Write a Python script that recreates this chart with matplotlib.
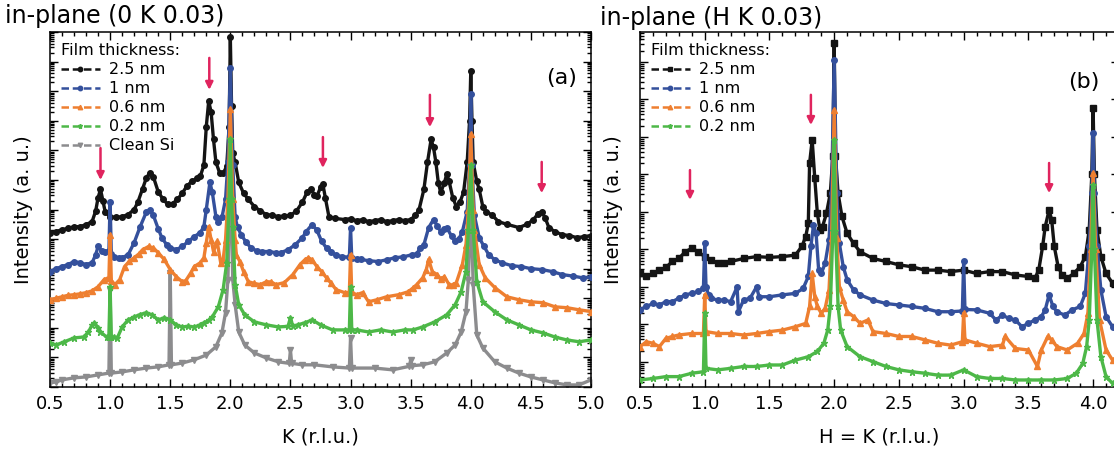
import numpy as np
import matplotlib
matplotlib.use("Agg")
import matplotlib.pyplot as plt
from matplotlib.lines import Line2D
from matplotlib.ticker import LogLocator, NullFormatter, MultipleLocator

plt.rcParams['font.family'] = ['DejaVu Sans']

# ---------------- Panel (a): in-plane (0 K 0.03) ----------------
# log10 of intensity (a.u.)
a_k_25 = [0.50,0.55,0.60,0.65,0.70,0.75,0.80,0.85,0.88,0.90,0.92,0.94,0.96,1.00,1.05,1.10,1.15,1.20,1.23,1.27,
          1.30,1.33,1.36,1.40,1.44,1.48,1.52,1.56,1.60,1.64,1.68,1.72,1.75,1.78,1.80,1.82,1.84,1.86,1.88,1.91,
          1.94,1.97,1.99,2.00,2.01,2.02,2.04,2.07,2.11,2.15,2.20,2.25,2.30,2.35,2.40,2.45,2.50,2.55,2.60,2.64,
          2.67,2.70,2.72,2.75,2.77,2.79,2.82,2.87,2.95,3.00,3.05,3.10,3.15,3.20,3.25,3.30,3.35,3.40,3.45,3.50,
          3.54,3.57,3.61,3.64,3.67,3.69,3.71,3.73,3.75,3.78,3.80,3.82,3.85,3.88,3.91,3.94,3.97,3.99,4.00,4.01,
          4.02,4.05,4.07,4.10,4.13,4.18,4.23,4.30,4.40,4.47,4.52,4.56,4.59,4.62,4.65,4.70,4.76,4.82,4.88,4.94,5.00]
a_i_25 = [5.22,5.25,5.32,5.36,5.42,5.42,5.49,5.59,5.95,6.40,6.68,6.30,5.90,5.76,5.73,5.76,5.83,6.00,6.24,6.70,
          7.05,7.25,7.10,6.60,6.35,6.17,6.20,6.34,6.55,6.80,6.95,7.05,7.12,7.50,8.80,9.66,9.30,8.37,7.60,7.25,
          7.22,7.46,8.80,11.83,9.50,7.90,7.59,6.92,6.55,6.34,6.10,5.95,5.83,5.80,5.76,5.78,5.80,5.95,6.25,6.60,
          6.68,6.50,6.44,6.75,6.85,6.40,5.76,5.70,5.66,5.69,5.62,5.66,5.59,5.62,5.66,5.59,5.62,5.66,5.62,5.66,
          5.80,6.00,6.68,7.60,8.37,8.10,7.59,6.90,6.58,6.90,7.19,6.95,6.40,6.10,6.25,6.58,7.59,9.00,10.68,9.00,
          7.59,6.95,6.68,6.10,5.93,5.80,5.59,5.50,5.39,5.50,5.66,5.85,5.93,5.70,5.39,5.25,5.15,5.12,5.05,5.08,5.12]

a_k_10 = [0.50,0.55,0.60,0.65,0.70,0.75,0.80,0.85,0.88,0.90,0.93,0.96,0.99,1.00,1.01,1.03,1.07,1.10,1.15,1.20,
          1.25,1.30,1.33,1.36,1.40,1.43,1.47,1.50,1.55,1.60,1.65,1.70,1.75,1.78,1.80,1.83,1.85,1.88,1.90,1.93,
          1.96,1.98,2.00,2.02,2.04,2.06,2.09,2.13,2.17,2.22,2.26,2.32,2.38,2.42,2.48,2.54,2.60,2.63,2.68,2.72,
          2.76,2.80,2.84,2.88,2.93,2.99,3.00,3.01,3.05,3.09,3.15,3.23,3.30,3.37,3.44,3.51,3.55,3.58,3.61,3.65,
          3.69,3.72,3.75,3.78,3.80,3.84,3.87,3.90,3.93,3.97,3.99,4.00,4.01,4.03,4.07,4.11,4.15,4.20,4.26,4.34,
          4.42,4.50,4.59,4.68,4.76,4.85,4.93,5.00]
a_i_10 = [3.90,4.00,4.07,4.14,4.24,4.20,4.14,4.20,4.47,4.75,4.60,4.58,4.60,6.27,4.50,4.41,4.37,4.37,4.47,4.88,
          5.42,5.90,5.97,5.80,5.35,5.05,4.81,4.71,4.64,4.75,4.92,5.08,5.22,5.42,6.00,6.92,6.58,5.76,5.59,5.73,
          6.34,7.59,10.80,7.50,5.73,5.40,5.15,4.90,4.71,4.60,4.58,4.58,4.54,4.54,4.64,4.81,5.05,5.25,5.49,5.30,
          4.92,4.70,4.58,4.45,4.41,4.38,5.39,4.35,4.31,4.31,4.27,4.24,4.30,4.37,4.40,4.47,4.50,4.70,4.81,5.39,
          5.66,5.45,5.25,5.35,5.39,5.10,4.92,5.00,5.25,5.93,7.50,9.90,7.50,5.80,5.05,4.75,4.47,4.30,4.20,4.10,
          4.07,4.00,3.97,3.90,3.80,3.75,3.69,3.72]

a_k_06 = [0.50,0.55,0.60,0.65,0.70,0.75,0.80,0.85,0.90,0.95,0.99,1.00,1.01,1.04,1.08,1.12,1.16,1.20,1.24,1.27,
          1.32,1.36,1.40,1.45,1.50,1.55,1.60,1.63,1.67,1.70,1.75,1.78,1.80,1.82,1.84,1.86,1.89,1.92,1.94,1.96,
          1.98,2.00,2.02,2.04,2.05,2.08,2.11,2.15,2.20,2.25,2.30,2.34,2.38,2.45,2.52,2.58,2.62,2.65,2.68,2.72,
          2.76,2.80,2.84,2.88,2.95,2.99,3.00,3.01,3.05,3.10,3.15,3.22,3.30,3.40,3.48,3.52,3.55,3.60,3.63,3.65,
          3.68,3.72,3.75,3.78,3.82,3.85,3.88,3.93,3.96,3.98,4.00,4.02,4.03,4.07,4.12,4.20,4.30,4.40,4.50,4.60,
          4.70,4.80,4.90,5.00]
a_i_06 = [2.95,3.00,3.05,3.10,3.12,3.15,3.19,3.25,3.39,3.63,3.70,5.15,3.60,3.46,3.63,4.07,4.25,4.37,4.50,4.64,
          4.75,4.70,4.54,4.31,3.97,3.73,3.56,3.60,3.85,4.07,4.20,4.37,4.88,5.42,4.98,4.58,4.92,4.20,4.30,4.98,
          6.34,9.39,6.34,4.98,4.47,4.24,3.90,3.56,3.50,3.46,3.56,3.55,3.46,3.53,3.80,4.14,4.30,4.37,4.30,4.07,
          3.90,3.69,3.50,3.29,3.19,3.20,4.47,3.20,3.12,3.19,2.88,2.95,3.05,3.12,3.22,3.35,3.46,3.69,3.97,4.31,
          3.90,3.80,3.65,3.73,3.46,3.45,3.53,4.14,4.81,6.00,8.54,6.00,5.32,4.14,3.69,3.36,3.05,2.95,2.88,2.85,
          2.71,2.68,2.61,2.55]

a_k_02 = [0.50,0.55,0.62,0.70,0.78,0.82,0.85,0.87,0.90,0.92,0.97,0.99,1.00,1.01,1.03,1.06,1.10,1.15,1.20,1.25,
          1.30,1.35,1.40,1.45,1.50,1.55,1.60,1.65,1.70,1.75,1.78,1.82,1.85,1.90,1.94,1.97,1.99,2.00,2.01,2.02,
          2.04,2.07,2.12,2.20,2.30,2.40,2.48,2.50,2.52,2.56,2.62,2.68,2.75,2.85,2.95,2.99,3.00,3.01,3.05,3.15,
          3.25,3.35,3.45,3.52,3.60,3.70,3.80,3.87,3.92,3.96,3.98,4.00,4.02,4.05,4.10,4.20,4.30,4.40,4.50,4.60,
          4.70,4.80,4.90,5.00]
a_i_02 = [1.49,1.42,1.53,1.66,1.69,1.86,2.10,2.17,2.00,1.86,1.69,1.69,3.39,1.69,1.69,1.66,2.03,2.27,2.37,2.45,
          2.51,2.44,2.27,2.34,2.27,2.10,2.03,2.05,2.03,2.10,2.17,2.25,2.37,2.71,3.29,4.20,6.34,8.37,6.34,5.40,
          3.46,2.78,2.44,2.20,2.10,2.03,2.05,2.34,2.05,2.10,2.17,2.27,2.10,1.93,1.93,1.93,3.39,1.93,1.93,1.86,
          1.93,1.86,1.93,1.93,2.03,2.20,2.44,2.78,3.22,3.90,5.32,7.50,5.32,3.56,2.88,2.54,2.27,2.10,1.93,1.83,
          1.69,1.59,1.53,1.59]

a_k_si = [0.50,0.55,0.60,0.70,0.80,0.90,0.99,1.00,1.01,1.10,1.20,1.30,1.40,1.49,1.50,1.51,1.60,1.70,1.80,1.88,
          1.93,1.96,1.98,2.00,2.02,2.04,2.07,2.12,2.20,2.30,2.40,2.49,2.50,2.51,2.60,2.70,2.85,2.99,3.00,3.01,
          3.20,3.35,3.49,3.50,3.51,3.60,3.70,3.80,3.87,3.92,3.96,3.98,4.00,4.02,4.05,4.10,4.20,4.30,4.40,4.50,
          4.60,4.70,4.80,4.90,5.00]
a_i_si = [0.14,0.17,0.24,0.31,0.34,0.41,0.47,3.29,0.47,0.51,0.58,0.64,0.68,0.75,3.86,0.75,0.81,0.92,1.08,1.36,
          1.83,2.51,3.63,7.69,3.63,2.78,1.86,1.42,1.15,0.98,0.85,0.80,1.25,0.80,0.75,0.75,0.68,0.64,1.66,0.64,
          0.64,0.58,0.70,0.92,0.72,0.75,0.85,1.15,1.42,1.86,2.54,3.63,6.34,3.46,1.76,1.32,0.85,0.64,0.47,0.34,
          0.24,0.14,0.07,0.07,0.24]

# ---------------- Panel (b): in-plane (H K 0.03) ----------------
b_k_25 = [0.50,0.55,0.60,0.65,0.70,0.75,0.80,0.85,0.90,0.95,1.00,1.05,1.10,1.15,1.20,1.30,1.40,1.50,1.60,1.70,
          1.75,1.78,1.80,1.81,1.83,1.85,1.87,1.89,1.91,1.94,1.97,1.99,2.00,2.01,2.03,2.06,2.10,2.15,2.20,2.30,
          2.40,2.50,2.60,2.70,2.80,2.90,3.00,3.10,3.20,3.30,3.40,3.50,3.55,3.58,3.61,3.63,3.66,3.68,3.70,3.73,
          3.76,3.80,3.85,3.90,3.94,3.97,3.99,4.00,4.01,4.03,4.06,4.10,4.15]
b_i_25 = [3.36,3.28,3.36,3.45,3.52,3.68,3.76,3.94,4.03,3.94,3.81,3.72,3.63,3.63,3.68,3.76,3.81,3.79,3.81,3.85,
          4.08,4.34,4.70,6.30,6.92,5.90,4.96,4.52,4.61,4.96,5.50,6.50,9.51,6.50,5.50,4.88,4.43,4.16,3.94,3.76,
          3.68,3.59,3.54,3.45,3.45,3.41,3.45,3.36,3.41,3.41,3.32,3.28,3.23,3.45,4.08,4.61,5.05,4.79,4.08,3.54,
          3.32,3.23,3.36,3.54,3.81,4.52,6.00,7.77,6.00,4.52,3.81,3.36,3.10]

b_k_10 = [0.50,0.55,0.60,0.65,0.70,0.75,0.80,0.85,0.90,0.95,0.99,1.00,1.01,1.03,1.05,1.10,1.15,1.20,1.25,1.26,
          1.30,1.35,1.40,1.42,1.50,1.60,1.70,1.76,1.80,1.82,1.84,1.86,1.88,1.90,1.93,1.96,1.98,2.00,2.02,2.04,
          2.07,2.10,2.15,2.20,2.30,2.40,2.50,2.60,2.70,2.80,2.90,2.99,3.00,3.01,3.10,3.20,3.25,3.30,3.35,3.40,3.45,
          3.50,3.55,3.60,3.63,3.66,3.69,3.72,3.78,3.84,3.90,3.94,3.97,3.99,4.00,4.01,4.03,4.06,4.10,4.15]
b_i_10 = [2.39,2.48,2.56,2.52,2.61,2.61,2.70,2.79,2.83,2.88,2.96,4.16,3.00,2.79,2.70,2.65,2.65,2.61,3.00,2.34,
          2.65,2.70,3.00,2.74,2.74,2.79,2.83,2.96,3.28,4.08,4.65,4.43,3.45,3.36,3.63,4.25,5.50,9.05,5.50,4.16,
          3.54,3.19,2.92,2.79,2.65,2.56,2.52,2.48,2.43,2.34,2.34,2.36,3.68,2.40,2.39,2.30,2.12,2.25,2.16,2.12,1.94,
          2.03,2.12,2.21,2.39,2.79,2.48,2.34,2.25,2.39,2.48,2.83,4.08,5.50,7.10,5.50,4.08,2.92,2.21,1.94]

b_k_06 = [0.50,0.55,0.60,0.65,0.70,0.75,0.80,0.90,0.99,1.00,1.01,1.10,1.20,1.30,1.40,1.50,1.60,1.70,1.78,1.81,
          1.83,1.85,1.87,1.90,1.93,1.96,1.98,2.00,2.02,2.04,2.07,2.10,2.15,2.20,2.26,2.30,2.40,2.50,2.60,2.70,
          2.80,2.90,2.99,3.00,3.01,3.10,3.20,3.30,3.32,3.40,3.50,3.57,3.60,3.65,3.68,3.72,3.80,3.88,3.93,3.96,
          3.98,4.00,4.02,4.05,4.10,4.15]
b_i_06 = [1.41,1.54,1.50,1.41,1.63,1.68,1.72,1.76,1.76,2.79,1.81,1.76,1.76,1.72,1.76,1.81,1.85,1.94,2.03,2.48,
          3.36,2.74,2.48,2.30,2.43,2.92,4.30,7.72,4.30,3.00,2.65,2.34,2.21,2.03,2.12,1.81,1.76,1.68,1.68,1.59,
          1.50,1.45,1.54,2.30,1.59,1.50,1.41,1.45,1.68,1.36,1.32,0.88,1.32,1.68,1.59,1.41,1.32,1.50,1.76,2.30,
          4.00,6.04,4.00,2.12,1.32,1.05]

b_k_02 = [0.50,0.60,0.70,0.80,0.90,0.99,1.00,1.01,1.10,1.20,1.30,1.40,1.50,1.60,1.70,1.80,1.87,1.92,1.95,1.97,
          1.99,2.00,2.01,2.03,2.05,2.10,2.20,2.30,2.40,2.50,2.60,2.70,2.80,2.90,3.00,3.10,3.20,3.30,3.40,3.50,
          3.60,3.70,3.80,3.87,3.92,3.95,3.97,3.99,4.00,4.01,4.03,4.06,4.10,4.15]
b_i_02 = [0.52,0.56,0.61,0.61,0.70,0.74,2.30,0.83,0.79,0.83,0.88,0.88,0.92,0.92,1.05,1.14,1.28,1.50,1.85,2.48,
          4.50,6.92,4.50,2.48,1.85,1.41,1.14,1.01,0.88,0.79,0.74,0.70,0.65,0.65,0.79,0.61,0.56,0.56,0.52,0.52,
          0.52,0.52,0.56,0.70,0.96,1.41,2.12,4.00,5.72,4.00,2.12,1.14,0.61,0.43]

x_ticks = [0.5, 1.0, 1.5, 2.0, 2.5, 3.0, 3.5, 4.0, 4.5, 5.0]
labels_a = ['2.5 nm', '1 nm', '0.6 nm', '0.2 nm', 'Clean Si']
labels_b = ['2.5 nm', '1 nm', '0.6 nm', '0.2 nm']

C_BLACK = '#141414'
C_BLUE = '#34509c'
C_ORANGE = '#ee7f30'
C_GREEN = '#4db848'
C_GREY = '#8c8c8e'
C_ARROW = '#e0245e'

fig = plt.figure(figsize=(11.14, 4.57), dpi=100)
axa = fig.add_axes([50/1114, 70/457, 541/1114, 355/457])
axb = fig.add_axes([640/1114, 70/457, 479/1114, 355/457])


def draw(ax, k, v, color, marker, ms, z):
    ax.plot(k, 10.0 ** np.asarray(v), color=color, marker=marker, ms=ms, lw=2.4,
            mec=color, mfc=color, zorder=z, solid_joinstyle='round')


styles_a = [(a_k_si, a_i_si, C_GREY, 'v', 4.2, 2),
            (a_k_25, a_i_25, C_BLACK, 'o', 4.0, 3),
            (a_k_10, a_i_10, C_BLUE, 'o', 4.0, 4),
            (a_k_06, a_i_06, C_ORANGE, '^', 4.2, 5),
            (a_k_02, a_i_02, C_GREEN, '*', 4.6, 6)]
for k, v, c, m, ms, z in styles_a:
    draw(axa, k, v, c, m, ms, z)

styles_b = [(b_k_25, b_i_25, C_BLACK, 's', 3.8, 3),
            (b_k_10, b_i_10, C_BLUE, 'o', 4.0, 4),
            (b_k_06, b_i_06, C_ORANGE, '^', 4.2, 5),
            (b_k_02, b_i_02, C_GREEN, '*', 4.6, 6)]
for k, v, c, m, ms, z in styles_b:
    draw(axb, k, v, c, m, ms, z)

for ax in (axa, axb):
    ax.set_yscale('log')
    ax.yaxis.set_major_locator(LogLocator(base=10, numticks=30))
    ax.yaxis.set_minor_locator(LogLocator(base=10, subs=np.arange(2, 10), numticks=300))
    ax.yaxis.set_major_formatter(NullFormatter())
    ax.yaxis.set_minor_formatter(NullFormatter())
    ax.xaxis.set_major_locator(MultipleLocator(0.5))
    ax.xaxis.set_minor_locator(MultipleLocator(0.1))
    ax.tick_params(which='both', direction='in', top=True, right=True, width=1.0)
    ax.tick_params(which='major', length=6, labelsize=13, pad=6)
    ax.tick_params(which='minor', length=3)
    ax.set_xticks(x_ticks)
    ax.set_xticklabels(['%.1f' % t for t in x_ticks])
    for s in ax.spines.values():
        s.set_linewidth(1.1)
    ax.set_ylabel('Intensity (a. u.)', fontsize=14, labelpad=6)

axa.set_xlim(0.5, 5.0)
axa.set_ylim(1e0, 1e12)
axb.set_xlim(0.5, 4.2)
axb.set_ylim(10 ** 0.333, 10 ** 9.8)

axa.set_xlabel('K (r.l.u.)', fontsize=14, labelpad=10)
axb.set_xlabel('H = K (r.l.u.)', fontsize=14, labelpad=10)

fig.text(5/1114, 1 - 23/457, 'in-plane (0 K 0.03)', fontsize=17, va='baseline', ha='left')
fig.text(600/1114, 1 - 25/457, 'in-plane (H K 0.03)', fontsize=17, va='baseline', ha='left')
axa.text(0.975, 0.87, '(a)', transform=axa.transAxes, fontsize=16, ha='right', va='center')
axb.text(0.96, 0.86, '(b)', transform=axb.transAxes, fontsize=16, ha='right', va='center')


def legend(ax, labels, specs):
    handles = [Line2D([], [], color=c, marker=m, ms=ms, lw=1.8, ls=(0, (3.0, 1.5)))
               for (c, m, ms) in specs]
    lg = ax.legend(handles, labels, title='Film thickness:', loc='upper left',
                   bbox_to_anchor=(0.0, 1.0), frameon=False, fontsize=11.5,
                   title_fontsize=11.5, handlelength=2.4, handletextpad=0.6,
                   labelspacing=0.25, borderaxespad=0.3, alignment='left')
    lg.set_zorder(20)


legend(axa, labels_a, [(C_BLACK, 'o', 3.2), (C_BLUE, 'o', 3.2), (C_ORANGE, '^', 3.2),
                       (C_GREEN, '*', 3.6), (C_GREY, 'v', 3.2)])
legend(axb, labels_b, [(C_BLACK, 's', 3.0), (C_BLUE, 'o', 3.2), (C_ORANGE, '^', 3.2),
                       (C_GREEN, '*', 3.6)])

arrows_a = [(0.92, 0.673, 0.583), (1.825, 0.927, 0.837), (2.77, 0.704, 0.617),
            (3.66, 0.823, 0.732), (4.59, 0.634, 0.546)]
arrows_b = [(0.886, 0.611, 0.527), (1.82, 0.823, 0.738), (3.66, 0.631, 0.546)]
for ax, arrs in ((axa, arrows_a), (axb, arrows_b)):
    for k, y0, y1 in arrs:
        ax.annotate('', xy=(k, y1), xytext=(k, y0),
                    xycoords=('data', 'axes fraction'), textcoords=('data', 'axes fraction'),
                    arrowprops=dict(arrowstyle='-|>', color=C_ARROW, lw=1.8,
                                    mutation_scale=11, shrinkA=0, shrinkB=0), zorder=30)

fig.savefig('out.png', dpi=100)
